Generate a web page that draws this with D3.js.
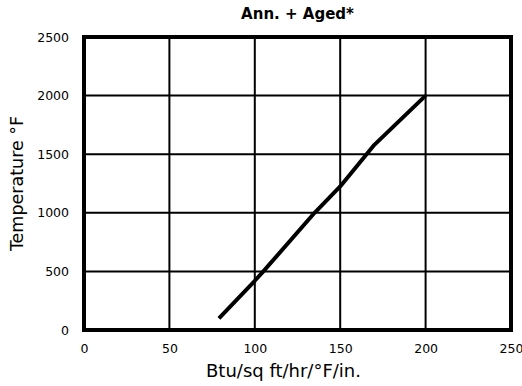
<!DOCTYPE html>
<html>
<head>
<meta charset="utf-8">
<script src="https://cdn.jsdelivr.net/npm/d3@7"></script>
<style>
  body { margin: 0; background: #fff; }
  text { font-family: "DejaVu Sans", sans-serif; fill: #000; }
</style>
</head>
<body>
<div id="chart"></div>
<script>
// Thermal conductivity vs temperature, Ann. + Aged
const conductivity = [79, 100, 105, 135, 150, 170, 200];
const temperature = [100, 420, 500, 1000, 1225, 1580, 2000];
const xTicks = [0, 50, 100, 150, 200, 250];
const yTicks = [0, 500, 1000, 1500, 2000, 2500];

const svgWidth = 522;
const svgHeight = 386;
const margin = { top: 37, right: 11, bottom: 56, left: 84 };
const width = svgWidth - margin.left - margin.right;
const height = svgHeight - margin.top - margin.bottom;

const svg = d3.select("#chart")
  .append("svg")
  .attr("width", svgWidth)
  .attr("height", svgHeight)
  .append("g")
  .attr("transform", `translate(${margin.left},${margin.top})`);

const xScale = d3.scaleLinear().domain([0, 250]).range([0, width]);
const yScale = d3.scaleLinear().domain([0, 2500]).range([height, 0]);

// grid
svg.selectAll(".vgrid")
  .data(xTicks.slice(1, -1))
  .enter()
  .append("line")
  .attr("x1", d => xScale(d)).attr("x2", d => xScale(d))
  .attr("y1", 0).attr("y2", height)
  .attr("stroke", "#000").attr("stroke-width", 2);

svg.selectAll(".hgrid")
  .data(yTicks.slice(1, -1))
  .enter()
  .append("line")
  .attr("x1", 0).attr("x2", width)
  .attr("y1", d => yScale(d)).attr("y2", d => yScale(d))
  .attr("stroke", "#000").attr("stroke-width", 2);

// axes (labels only)
const xAxis = d3.axisBottom(xScale).tickValues(xTicks).tickFormat(d3.format("d")).tickSize(0).tickPadding(14);
const yAxis = d3.axisLeft(yScale).tickValues(yTicks).tickFormat(d3.format("d")).tickSize(0).tickPadding(15);

svg.append("g")
  .attr("transform", `translate(0,${height})`)
  .call(xAxis)
  .call(g => g.select(".domain").remove())
  .selectAll("text").style("font-size", "12.5px").style("font-family", "DejaVu Sans");

svg.append("g")
  .call(yAxis)
  .call(g => g.select(".domain").remove())
  .selectAll("text").style("font-size", "12.5px").style("font-family", "DejaVu Sans");

// frame
svg.append("rect")
  .attr("x", 0).attr("y", 0)
  .attr("width", width).attr("height", height)
  .attr("fill", "none")
  .attr("stroke", "#000")
  .attr("stroke-width", 4);

// curve
const line = d3.line()
  .x((d, i) => xScale(conductivity[i]))
  .y(d => yScale(d));

svg.append("path")
  .datum(temperature)
  .attr("d", line)
  .attr("fill", "none")
  .attr("stroke", "#000")
  .attr("stroke-width", 4)
  .attr("stroke-linejoin", "round");

// titles
svg.append("text")
  .attr("x", width / 2)
  .attr("y", -18)
  .attr("text-anchor", "middle")
  .style("font-size", "15px")
  .style("font-weight", "bold")
  .text("Ann. + Aged*");

svg.append("text")
  .attr("x", width / 2 - 14)
  .attr("y", height + 47)
  .attr("text-anchor", "middle")
  .style("font-size", "18px")
  .text("Btu/sq ft/hr/°F/in.");

svg.append("text")
  .attr("transform", `translate(${-61},${height / 2}) rotate(-90)`)
  .attr("text-anchor", "middle")
  .style("font-size", "17.5px")
  .text("Temperature °F");
</script>
</body>
</html>
